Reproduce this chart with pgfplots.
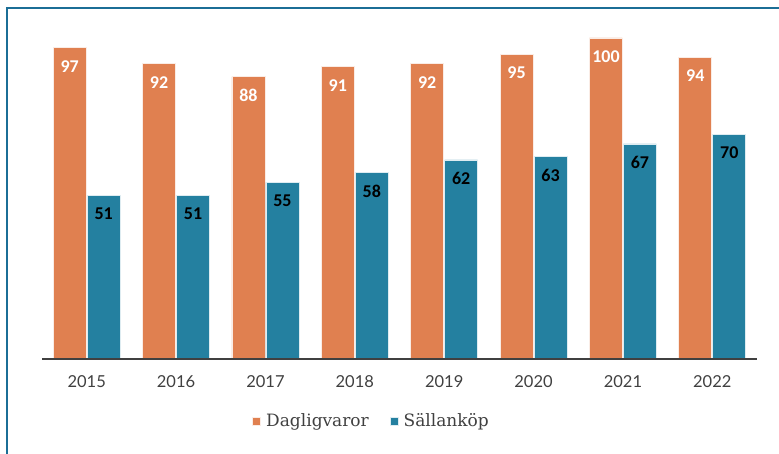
\documentclass[border=0pt]{standalone}
\usepackage{pgfplots}
\pgfplotsset{compat=1.18}
\usepackage{fontspec}
\setmainfont{Lato}
\newfontfamily\labelfont{Carlito}
\newfontfamily\legendfont{DejaVu Serif}
\definecolor{dagl}{RGB}{224,128,80}
\definecolor{sall}{RGB}{36,128,160}
\definecolor{framecol}{RGB}{27,110,150}
\definecolor{tickcol}{RGB}{64,64,64}

\begin{document}
\begin{tikzpicture}
\useasboundingbox (0,0) rectangle (779bp,-454bp);
\draw[framecol, line width=2bp] (7bp,-454bp) -- (7bp,-8bp) -- (779bp,-8bp);
\begin{axis}[
    at={(42bp,-359bp)}, anchor=south west,
    scale only axis, width=715bp, height=346.7bp,
    xmin=-0.5, xmax=7.5, ymin=0, ymax=108,
    ybar=1bp, bar width=33bp,
    axis x line*=bottom, axis y line=none,
    x axis line style={tickcol, line width=1.8bp},
    axis on top,
    /pgf/number format/assume math mode=true,
    xtick=data,
    xticklabels={2015,2016,2017,2018,2019,2020,2021,2022},
    major tick length=0pt,
    x tick label style={font=\fontsize{16.5bp}{16.5bp}\selectfont, text=tickcol, yshift=-13bp},
    nodes near coords,
    nodes near coords style={anchor=north, yshift=-9bp, font=\labelfont\bfseries\fontsize{18bp}{18bp}\selectfont},
    legend style={at={(0.461,0)}, anchor=center, yshift=-62bp, draw=none,
        legend columns=2, font=\legendfont\fontsize{17bp}{17bp}\selectfont, text=tickcol,
        /tikz/every odd column/.append style={column sep=3bp},
        /tikz/every even column/.append style={column sep=19bp}},
    legend image code/.code={\fill[#1] (0bp,-4bp) rectangle (8bp,4bp);},
]
\addplot[fill=dagl, draw=white!85!dagl, line width=0.8bp,
    every node near coord/.append style={text=white}]
    coordinates {(0,97) (1,92) (2,88) (3,91) (4,92) (5,95) (6,100) (7,94)};
\addlegendentry{Dagligvaror}
\addplot[fill=sall, draw=white!85!sall, line width=0.8bp,
    every node near coord/.append style={text=black}]
    coordinates {(0,51) (1,51) (2,55) (3,58) (4,62) (5,63) (6,67) (7,70)};
\addlegendentry{Sällanköp}
\end{axis}
\end{tikzpicture}
\end{document}
